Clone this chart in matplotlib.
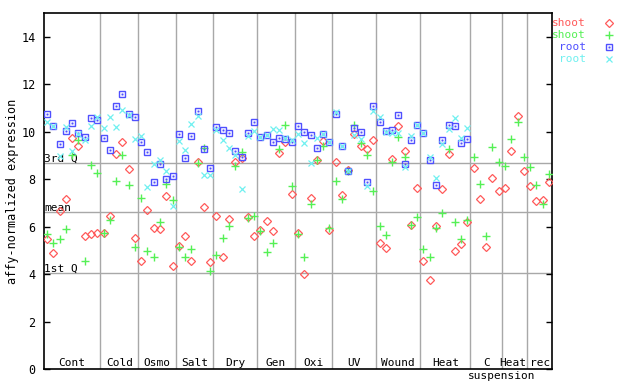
import matplotlib
matplotlib.use("Agg")
import matplotlib.pyplot as plt
from matplotlib.lines import Line2D
import numpy as np

# ---- data ----
group_labels = ["Cont", "Cold", "Osmo", "Salt", "Dry", "Gen", "Oxi", "UV",
                "Wound", "Heat", "C", "Heat", "rec"]
group_sizes = [9, 6, 6, 6, 7, 6, 6, 7, 7, 8, 5, 4, 4]
extra_label = "suspension"

shoot_red = [5.46, 4.87, 6.64, 7.15, 9.74, 9.40, 5.59, 5.67, 5.75,
             5.75, 6.44, 9.05, 9.56, 8.42, 5.54,
             4.53, 6.68, 5.96, 5.88, 7.28, 4.36,
             5.18, 5.59, 4.57, 8.71, 6.81, 4.49,
             6.43, 4.70, 6.30, 8.71, 8.90, 6.39, 5.59,
             5.84, 6.22, 5.80, 9.10, 9.56, 7.36,
             5.71, 4.02, 7.19, 8.80, 9.60, 5.84,
             8.71, 7.32, 8.38, 9.90, 9.39, 9.26, 9.64,
             5.29, 5.08, 8.84, 10.24, 9.18, 6.05, 7.62,
             4.57, 3.77, 6.01, 7.57, 9.05, 4.99, 5.25, 6.18,
             8.46, 7.15, 5.12, 8.04, 7.49,
             7.62, 9.18, 10.66, 8.33,
             7.70, 7.07, 7.11, 7.87]

shoot_green = [5.68, 5.33, 5.46, 5.88, 9.03, 9.65, 4.54, 8.59, 8.25,
               5.75, 6.26, 7.91, 9.01, 7.74, 5.12,
               7.19, 4.99, 4.70, 6.18, 7.78, 7.11,
               5.12, 4.70, 5.04, 8.67, 9.30, 4.15,
               4.82, 5.54, 6.01, 8.55, 9.14, 6.35, 6.43,
               5.80, 4.95, 5.29, 9.29, 10.28, 7.70,
               5.67, 4.74, 6.94, 8.80, 9.39, 5.92,
               7.91, 7.15, 8.35, 10.28, 9.52, 9.01, 7.49,
               6.01, 5.63, 8.71, 9.77, 8.93, 6.05, 6.39,
               5.04, 4.74, 5.92, 6.56, 9.26, 6.18, 5.46, 6.26,
               8.93, 7.78, 5.59, 9.35, 8.71,
               8.55, 9.69, 10.40, 8.93,
               8.50, 7.74, 6.94, 8.21]

root_blue = [10.76, 10.24, 9.49, 10.04, 10.38, 9.94, 9.78, 10.57, 10.49,
             9.73, 9.23, 11.09, 11.60, 10.75, 10.62,
             9.56, 9.14, 7.87, 8.63, 8.00, 8.12,
             9.90, 8.88, 9.81, 10.87, 9.26, 8.46,
             10.19, 10.07, 9.94, 9.18, 8.93, 9.94, 10.40,
             9.78, 9.85, 9.56, 9.73, 9.70, 9.56,
             10.24, 9.98, 9.86, 9.31, 9.90, 9.56,
             10.74, 9.39, 8.33, 10.15, 9.98, 7.87, 11.08,
             10.40, 10.03, 10.07, 10.70, 8.63, 9.64, 10.26,
             9.94, 8.80, 7.74, 9.64, 10.28, 10.24, 9.52, 9.69]

root_cyan = [10.40, 10.24, 8.98, 10.19, 9.19, 9.90, 9.66, 10.25, 10.62,
             10.15, 10.62, 10.19, 10.93, 10.70, 9.69,
             9.81, 7.66, 8.63, 8.80, 8.33, 6.85,
             9.60, 9.22, 10.32, 10.66, 8.18, 8.18,
             10.07, 9.64, 9.31, 9.01, 7.58, 9.80, 10.03,
             9.78, 9.85, 10.11, 10.07, 9.75, 9.64,
             9.90, 9.52, 8.67, 9.73, 9.90, 9.56,
             10.83, 9.39, 8.33, 9.86, 9.69, 7.70, 10.87,
             10.62, 10.00, 9.94, 9.94, 8.53, 9.81, 10.26,
             9.94, 8.93, 8.04, 9.48, 10.11, 10.57, 9.73, 10.15]

q_names = ["3rd Q", "mean", "1st Q"]
q_values = [8.67, 6.60, 4.06]

legend_names = ["shoot", "shoot", "root", "root"]

# ---- style ----
RED = "#ff5a5a"
GREEN = "#55f055"
BLUE = "#5050ff"
CYAN = "#70f0f0"
GRID = "#a8a8a8"
FONT = "DejaVu Sans Mono"
FS = 8

plt.rcParams["font.family"] = FONT

fig = plt.figure(figsize=(6.4, 3.84), dpi=100)
ax = fig.add_axes([44 / 640, 15 / 384, 508 / 640, 356 / 384])

n = sum(group_sizes)
ax.set_xlim(0, n)
ax.set_ylim(0, 15)

bounds = np.cumsum(group_sizes)
for b in bounds[:-1]:
    ax.axvline(b, color=GRID, lw=1.0, zorder=1)
for v in q_values:
    ax.axhline(v, color=GRID, lw=1.0, zorder=1)
for name, v in zip(q_names, q_values):
    ax.text(0.05, v + 0.05, name, ha="left", va="baseline", fontsize=FS,
            zorder=2)

starts = np.concatenate([[0], bounds[:-1]])
for k, (lab, s, sz) in enumerate(zip(group_labels, starts, group_sizes)):
    if k == 11:
        ax.text(bounds[11] - 0.05, 0.12, lab, ha="right", va="baseline",
                fontsize=FS)
    elif k == 12:
        ax.text(bounds[11] + 0.45, 0.12, lab, ha="left", va="baseline",
                fontsize=FS)
    else:
        ax.text(s + sz / 2, 0.12, lab, ha="center", va="baseline",
                fontsize=FS)
ax.text(bounds[10], -0.42, extra_label, ha="center", va="baseline",
        fontsize=FS, clip_on=False)

x_all = np.arange(n) + 0.5
xs_r = x_all[:len(shoot_red)]
xs_g = x_all[:len(shoot_green)]
xs_b = x_all[:len(root_blue)]
xs_c = x_all[:len(root_cyan)]

mew = 0.9
ax.plot(xs_r, shoot_red, ls="none", marker="D", ms=4.0, mfc="none",
        mec=RED, mew=mew, zorder=3)
ax.plot(xs_g, shoot_green, ls="none", marker="+", ms=6.0, mec=GREEN,
        mew=1.0, zorder=4)
ax.plot(xs_b, root_blue, ls="none", marker="s", ms=4.6, mfc="none",
        mec=BLUE, mew=1.0, zorder=5)
ax.plot(xs_b, root_blue, ls="none", marker="s", ms=1.0, mfc=BLUE,
        mec=BLUE, mew=0.3, zorder=5)
ax.plot(xs_c, root_cyan, ls="none", marker="x", ms=4.4, mec=CYAN,
        mew=0.9, zorder=6)

ax.set_xticks([])
ax.set_yticks(np.arange(0, 15, 2))
ax.tick_params(axis="y", direction="in", length=4, width=1, right=True,
               labelsize=FS + 0.5, pad=6)
for s in ax.spines.values():
    s.set_linewidth(1.2)
    s.set_color("black")
ax.set_ylabel("affy-normalized expression", fontsize=FS + 0.5)
ax.yaxis.set_label_coords(-0.05, 0.5)

# legend
leg_colors = [RED, GREEN, BLUE, CYAN]
leg_rows = [22.5, 34.5, 46.5, 58.5]
for name, col, yr, k in zip(legend_names, leg_colors, leg_rows, range(4)):
    fig.text(586 / 640, 1 - (yr + 3.5) / 384, name, color=col, ha="right",
             va="baseline", fontsize=8)
    yf = 1 - yr / 384
    xf = 609 / 640
    if k == 0:
        fig.add_artist(Line2D([xf], [yf], marker="D", ms=4.0, mfc="none",
                              mec=RED, mew=mew, transform=fig.transFigure))
    elif k == 1:
        fig.add_artist(Line2D([xf], [yf], marker="+", ms=6.0, mec=GREEN,
                              mew=1.0, transform=fig.transFigure))
    elif k == 2:
        fig.add_artist(Line2D([xf], [yf], marker="s", ms=4.6, mfc="none",
                              mec=BLUE, mew=1.0, transform=fig.transFigure))
        fig.add_artist(Line2D([xf], [yf], marker="s", ms=1.0, mfc=BLUE,
                              mec=BLUE, mew=0.3, transform=fig.transFigure))
    else:
        fig.add_artist(Line2D([xf], [yf], marker="x", ms=4.4, mec=CYAN,
                              mew=0.9, transform=fig.transFigure))

fig.savefig("out.png", dpi=100)
